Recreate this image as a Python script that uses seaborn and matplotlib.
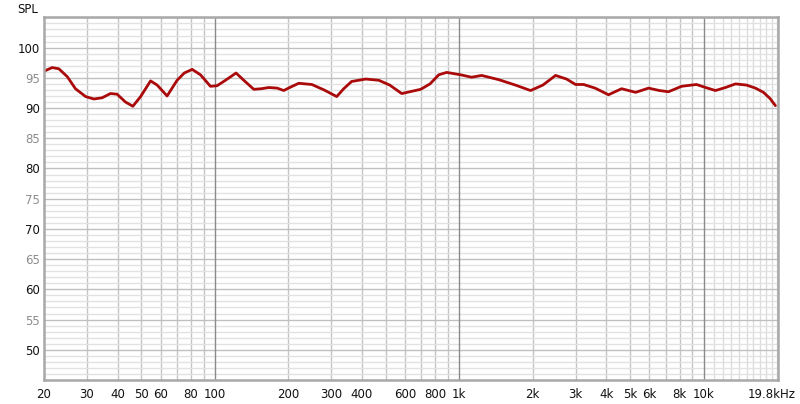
import numpy as np
import pandas as pd
import matplotlib
matplotlib.use("Agg")
import matplotlib.pyplot as plt
import matplotlib.transforms as mtransforms
import seaborn as sns
from matplotlib.ticker import FixedLocator, NullFormatter, NullLocator

freq_hz = [20, 21.6, 23.0, 24.9, 26.9, 29.6, 32.0, 34.6, 37.4, 39.8, 43.1, 46.2,
           49.7, 54.6, 58.1, 63.8, 70.1, 75, 80.8, 87.4, 96.0, 102.2, 110.6, 122.2,
           131.4, 144.4, 155, 166.3, 180, 191.5, 205, 220.6, 249.5, 280, 315.5,
           337, 363, 415, 469, 520, 582, 696, 760, 825, 889, 950, 1015, 1125, 1236,
           1452, 1700, 1960, 2200, 2481, 2750, 2995, 3230, 3600, 4085, 4621, 5275,
           5960, 6600, 7190, 8130, 9360, 10200, 11190, 12300, 13520, 15000, 16320,
           17590, 18700, 19690]
spl_db = [96.1, 96.7, 96.5, 95.2, 93.2, 91.9, 91.5, 91.7, 92.4, 92.3, 91.0, 90.3,
          91.9, 94.5, 93.8, 92.0, 94.6, 95.8, 96.4, 95.5, 93.6, 93.7, 94.6, 95.8,
          94.6, 93.1, 93.2, 93.4, 93.3, 92.9, 93.5, 94.1, 93.9, 93.0, 91.9,
          93.2, 94.4, 94.8, 94.6, 93.8, 92.4, 93.1, 94.0, 95.5, 95.9, 95.7, 95.5,
          95.1, 95.4, 94.7, 93.8, 92.9, 93.8, 95.4, 94.8, 93.9, 93.9, 93.3, 92.2,
          93.2, 92.6, 93.3, 92.9, 92.7, 93.6, 93.9, 93.4, 92.9, 93.4, 94.0, 93.8,
          93.3, 92.6, 91.6, 90.4]

x_major_ticks = [20, 30, 40, 50, 60, 80, 100, 200, 300, 400, 600, 800, 1000,
                 2000, 3000, 4000, 5000, 6000, 8000, 10000, 19800]
x_tick_labels = ["20", "30", "40", "50", "60", "80", "100", "200", "300", "400",
                 "600", "800", "1k", "2k", "3k", "4k", "5k", "6k", "8k", "10k",
                 "19.8kHz"]
y_ticks = [50, 55, 60, 65, 70, 75, 80, 85, 90, 95, 100]

df = pd.DataFrame({"freq": freq_hz, "spl": spl_db})

sns.set_theme(style="white")
plt.rcParams["font.family"] = ["DejaVu Sans"]

fig = plt.figure(figsize=(8.0, 4.04), dpi=100)
ax = fig.add_axes([0.055, 0.0594, 0.917, 0.899])

ax.set_xscale("log")
xmin, xmax = 20, 20100
ymin, ymax = 45, 105.1
for f in list(range(30, 100, 10)) + list(range(200, 1000, 100)) + list(range(2000, 10000, 1000)):
    ax.axvline(f, color="#c4c4c4", lw=1.0, zorder=1)
for f in range(11000, 20001, 1000):
    ax.axvline(f, color="#dcdcdc", lw=1.0, zorder=1)
for f in [100, 1000, 10000]:
    ax.axvline(f, color="#8a8a8a", lw=1.0, zorder=1.5)
for yv in range(46, 106):
    if yv % 5 == 0:
        ax.axhline(yv, color="#c0c0c0", lw=1.0, zorder=1.2)
    else:
        ax.axhline(yv, color="#e2e2e2", lw=1.0, zorder=1)

sns.lineplot(data=df, x="freq", y="spl", ax=ax, color="#aa0a0a", lw=2.0,
             zorder=3, legend=False)
for ln in ax.lines[-1:]:
    ln.set_solid_joinstyle("round")
    ln.set_solid_capstyle("round")

ax.set_xlim(xmin, xmax)
ax.set_ylim(ymin, ymax)
ax.xaxis.set_major_locator(FixedLocator(x_major_ticks))
ax.set_xticklabels(x_tick_labels)
ax.xaxis.set_minor_locator(NullLocator())
ax.xaxis.set_minor_formatter(NullFormatter())
ax.set_yticks(y_ticks)
ax.set_yticklabels([str(v) for v in y_ticks])
ax.tick_params(axis="both", length=0, labelsize=8.5, colors="#111111")
for lbl, v in zip(ax.get_yticklabels(), y_ticks):
    lbl.set_color("#111111" if v % 10 == 0 else "#8c8c8c")
ax.tick_params(axis="x", pad=6)
ax.tick_params(axis="y", pad=3)
last = ax.get_xticklabels()[-1]
last.set_ha("right")
last.set_transform(last.get_transform() + mtransforms.ScaledTranslation(0.2, 0, fig.dpi_scale_trans))
ax.set_xlabel("")
ax.set_ylabel("")
ax.grid(False)
for s in ax.spines.values():
    s.set_color("#a8a8a8")
    s.set_linewidth(1.8)
    s.set_zorder(5)

fig.text(0.022, 0.977, "SPL", fontsize=8.5, color="#111111", ha="left", va="center")

fig.savefig("out.png", dpi=100, facecolor="white")
